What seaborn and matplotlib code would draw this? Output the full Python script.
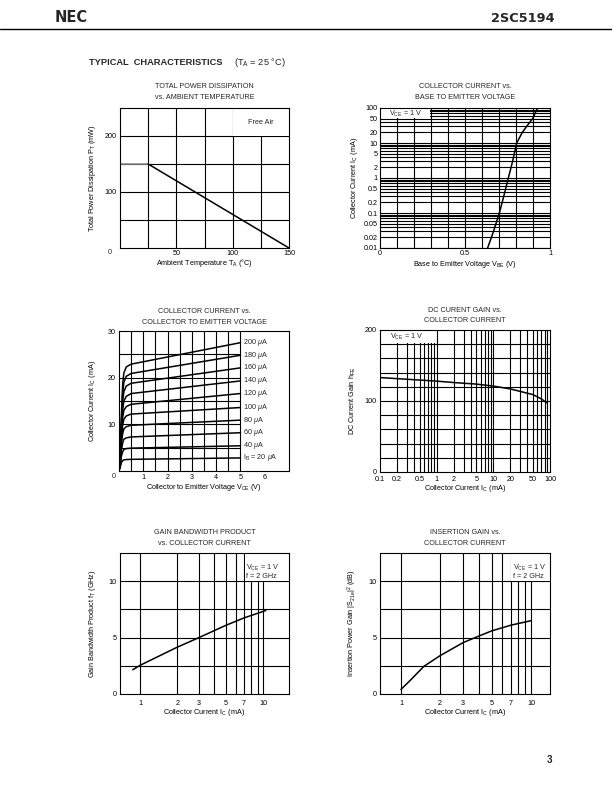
import numpy as np
import pandas as pd
import matplotlib
matplotlib.use("Agg")
import matplotlib.pyplot as plt
import seaborn as sns
from matplotlib.patches import Rectangle
from matplotlib.lines import Line2D
from matplotlib.ticker import NullLocator

sns.set_theme(style="white")
plt.rcParams['font.family'] = ['Liberation Sans', 'DejaVu Sans']
plt.rcParams['mathtext.fontset'] = 'custom'
plt.rcParams['mathtext.rm'] = 'Liberation Sans'
plt.rcParams['mathtext.it'] = 'Liberation Sans:italic'
plt.rcParams['mathtext.bf'] = 'Liberation Sans:bold'

# ---------------- data ----------------
# 1) Total power dissipation vs ambient temperature
ta_flat = [0, 25]
pt_flat = [150, 150]
ta_derate = [25, 150]
pt_derate = [150, 0]

# 2) Collector current vs base-emitter voltage (VCE = 1 V)
vbe_v = [0.633, 0.668, 0.702, 0.728, 0.755, 0.780, 0.804, 0.837, 0.863, 0.898, 0.927]
ic_vbe = [0.01, 0.03, 0.1, 0.3, 1, 3, 10, 20, 30, 50, 100]

# 3) Collector current vs collector-emitter voltage
vce_v = [0.0, 0.05, 0.1, 0.15, 0.2, 0.3, 0.5, 5.0]
ib_ua = [200, 180, 160, 140, 120, 100, 80, 60, 40, 20]
ic_ib200 = [0, 3.0, 12.0, 18.5, 21.0, 22.3, 22.9, 27.5]
ic_ib180 = [0, 3.0, 11.0, 16.5, 19.0, 20.3, 20.9, 24.8]
ic_ib160 = [0, 3.0, 10.0, 15.0, 17.0, 18.2, 18.8, 22.1]
ic_ib140 = [0, 2.5, 9.0, 13.0, 15.0, 16.0, 16.6, 19.3]
ic_ib120 = [0, 2.5, 8.0, 11.5, 13.0, 13.8, 14.3, 16.6]
ic_ib100 = [0, 2.0, 7.0, 9.8, 11.1, 11.8, 12.2, 13.6]
ic_ib80 = [0, 2.0, 6.0, 8.0, 9.0, 9.5, 9.8, 10.9]
ic_ib60 = [0, 1.5, 4.5, 6.0, 6.8, 7.1, 7.3, 8.2]
ic_ib40 = [0, 1.2, 3.2, 4.1, 4.6, 4.8, 4.9, 5.4]
ic_ib20 = [0, 0.8, 1.8, 2.2, 2.4, 2.45, 2.5, 2.8]

# 4) DC current gain vs collector current
ic_hfe = [0.1, 0.2, 0.5, 1, 2, 5, 10, 20, 50, 70, 90]
hfe = [133, 131.5, 129.5, 128, 126, 123.8, 121, 117, 109, 103, 97]

# 5) Gain bandwidth product vs collector current
ic_ft = [0.87, 1, 2, 3, 5, 7, 10.5]
ft_ghz = [2.15, 2.55, 4.15, 5.0, 6.1, 6.75, 7.4]

# 6) Insertion gain vs collector current
ic_gain = [1, 1.2, 1.5, 2, 3, 4, 5, 7, 10]
gain_db = [0.4, 1.3, 2.45, 3.4, 4.55, 5.15, 5.6, 6.1, 6.5]

# ---------------- helpers ----------------
W, H = 612, 792
fig = plt.figure(figsize=(W / 100, H / 100), dpi=100)
FS = 5.2
LWG = 0.8


def add_ax(x0, y0, x1, y1):
    ax = fig.add_axes([x0 / W, 1 - y1 / H, (x1 - x0) / W, (y1 - y0) / H])
    ax.set_facecolor('white')
    for s in ax.spines.values():
        s.set_color('black')
        s.set_linewidth(LWG)
        s.set_visible(True)
        s.set_zorder(5)
    ax.tick_params(length=0, labelsize=FS, colors='black', pad=2)
    ax.grid(False)
    ax._px = (x1 - x0, y1 - y0)
    return ax


def vgrid(ax, xs):
    for x in xs:
        ax.axvline(x, color='black', lw=LWG, zorder=1)


def hgrid(ax, ys):
    for y in ys:
        ax.axhline(y, color='black', lw=LWG, zorder=1)


def mask(ax, x0, x1, y0, y1):
    ax.add_patch(Rectangle((x0, y0), x1 - x0, y1 - y0, facecolor='white',
                           edgecolor='none', zorder=1.5))


def titles(ax, l1, l2, off1=21, off2=10.5):
    ax.annotate(l1, xy=(0.5, 1), xycoords='axes fraction', xytext=(0, off1 * 0.72),
                textcoords='offset points', ha='center', va='center', fontsize=FS)
    ax.annotate(l2, xy=(0.5, 1), xycoords='axes fraction', xytext=(0, off2 * 0.72),
                textcoords='offset points', ha='center', va='center', fontsize=FS)


def labels(ax, xl, yl, xoff, yoff):
    w, h = ax._px
    ax.set_xlabel(xl, fontsize=FS, color='black')
    ax.set_ylabel(yl, fontsize=FS, color='black')
    ax.xaxis.set_label_coords(0.5, -xoff / h)
    ax.yaxis.set_label_coords(-yoff / w, 0.5)
    ax.xaxis.label.set_va('center')
    ax.yaxis.label.set_va('center')


def curve(ax, x, y, color='black', lw=1.1):
    sns.lineplot(x=x, y=y, ax=ax, color=color, lw=lw, estimator=None, sort=False,
                 zorder=3)


# ---------------- header ----------------
fig.text(55 / W, 1 - 18 / H, "NEC", fontsize=10.5, fontweight='bold',
         family='DejaVu Sans', ha='left', va='center')
fig.text(555 / W, 1 - 18 / H, "2SC5194", fontsize=9.3, fontweight='bold',
         family='DejaVu Sans', ha='right', va='center')
fig.add_artist(Line2D([0, 1], [1 - 29 / H, 1 - 29 / H], color='black', lw=1.0))
fig.text(89 / W, 1 - 62.5 / H, "TYPICAL  CHARACTERISTICS", fontsize=6.7,
         fontweight='bold', ha='left', va='center')
fig.text(234 / W, 1 - 62.5 / H, r"(T$_\mathregular{A}$ = 25 °C)", fontsize=6.7,
         ha='left', va='center')
fig.text(549 / W, 1 - 760 / H, "3", fontsize=7, fontweight='bold', ha='center',
         va='center')

# ---------------- plot 1 ----------------
ax1 = add_ax(120, 108, 289, 248)
ax1.set_xlim(0, 150)
ax1.set_ylim(0, 250)
vgrid(ax1, [25, 50, 75, 100, 125])
hgrid(ax1, [50, 100, 150, 200])
mask(ax1, 100.6, 150, 200.8, 250)
curve(ax1, ta_flat, pt_flat, color='#8a8a8a')
curve(ax1, ta_derate, pt_derate)
ax1.set_xticks([50, 100, 150], ['50', '100', '150'])
ax1.set_yticks([100, 200], ['100', '200'])
ax1.tick_params(axis='x', pad=1.5)
ax1.tick_params(axis='y', pad=2.5)
ax1.text(0.834, 0.895, "Free Air", transform=ax1.transAxes, ha='center',
         va='center', fontsize=FS, zorder=4)
fig.text(110 / W, 1 - 253 / H, "0", fontsize=FS, ha='center', va='center')
titles(ax1, "TOTAL POWER DISSIPATION", "vs. AMBIENT TEMPERATURE")
labels(ax1, r"Ambient Temperature T$_\mathregular{A}$ (°C)",
       r"Total Power Dissipation P$_\mathregular{T}$ (mW)", 14.7, 28)

# ---------------- plot 2 ----------------
ax2 = add_ax(380, 108, 550, 248)
ax2.set_yscale('log')
ax2.set_xlim(0, 1)
ax2.set_ylim(0.01, 100)
vgrid(ax2, [0.1, 0.2, 0.3, 0.4, 0.5, 0.6, 0.7, 0.8, 0.9])
hgrid(ax2, [d * m for d in [0.01, 0.1, 1, 10] for m in range(1, 10)])
mask(ax2, 0, 0.297, 51, 100)
curve(ax2, vbe_v, ic_vbe)
ax2.yaxis.set_minor_locator(NullLocator())
yt2 = [100, 50, 20, 10, 5, 2, 1, 0.5, 0.2, 0.1, 0.05, 0.02, 0.01]
ax2.set_yticks(yt2, ['100', '50', '20', '10', '5', '2', '1', '0.5', '0.2', '0.1',
                     '0.05', '0.02', '0.01'])
ax2.set_xticks([0, 0.5, 1], ['0', '0.5', '1'])
ax2.tick_params(axis='x', pad=1.5)
ax2.tick_params(axis='y', pad=1.5)
ax2.text(0.15, 70, r"V$_\mathregular{CE}$ = 1 V", ha='center', va='center',
         fontsize=FS, zorder=4)
titles(ax2, "COLLECTOR CURRENT vs.", "BASE TO EMITTER VOLTAGE")
labels(ax2, r"Base to Emitter Voltage V$_\mathregular{BE}$ (V)",
       r"Collector Current I$_\mathregular{C}$ (mA)", 17, 26)

# ---------------- plot 3 ----------------
ax3 = add_ax(119, 331, 289, 471)
ax3.set_xlim(0, 7)
ax3.set_ylim(0, 30)
for x in [0.5, 1, 1.5, 2, 2.5, 3, 3.5, 4, 4.5, 5]:
    ax3.axvline(x, color='black', lw=LWG, zorder=1)
for y in [5, 10, 15, 20, 25]:
    ax3.plot([0, 5], [y, y], color='black', lw=LWG, zorder=1)
ic_family = [ic_ib200, ic_ib180, ic_ib160, ic_ib140, ic_ib120, ic_ib100,
             ic_ib80, ic_ib60, ic_ib40, ic_ib20]
df3 = pd.DataFrame({
    'vce': np.tile(vce_v, len(ib_ua)),
    'ic': np.concatenate(ic_family),
    'ib': np.repeat(ib_ua, len(vce_v)),
})
sns.lineplot(data=df3, x='vce', y='ic', hue='ib', units='ib', estimator=None,
             palette=['black'] * len(ib_ua), legend=False, ax=ax3, lw=1.1,
             sort=False, zorder=3)
for ib, ics in zip(ib_ua, ic_family):
    lab = rf"{ib} $\mu$A" if ib != 20 else r"I$_\mathregular{B}$ = 20 $\mu$A"
    ax3.text(5.12, ics[-1], lab, ha='left', va='center', fontsize=FS, zorder=4)
ax3.set_xticks([1, 2, 3, 4, 5, 6], ['1', '2', '3', '4', '5', '6'])
ax3.set_yticks([10, 20, 30], ['10', '20', '30'])
ax3.tick_params(axis='x', pad=2)
ax3.tick_params(axis='y', pad=2.5)
fig.text(114 / W, 1 - 477 / H, "0", fontsize=FS, ha='center', va='center')
titles(ax3, "COLLECTOR CURRENT vs.", "COLLECTOR TO EMITTER VOLTAGE", 19.5, 9)
labels(ax3, r"Collector to Emitter Voltage V$_\mathregular{CE}$ (V)",
       r"Collector Current I$_\mathregular{C}$ (mA)", 16.7, 27)

# ---------------- plot 4 ----------------
ax4 = add_ax(380, 330, 550, 472)
ax4.set_xscale('log')
ax4.set_xlim(0.1, 100)
ax4.set_ylim(0, 200)
vgrid(ax4, [d * m for d in [0.1, 1, 10] for m in range(1, 10) if d * m > 0.1])
hgrid(ax4, [20, 40, 60, 80, 100, 120, 140, 160, 180])
mask(ax4, 0.1, 0.985, 181, 200)
curve(ax4, ic_hfe, hfe)
ax4.xaxis.set_minor_locator(NullLocator())
ax4.set_xticks([0.1, 0.2, 0.5, 1, 2, 5, 10, 20, 50, 100],
               ['0.1', '0.2', '0.5', '1', '2', '5', '10', '20', '50', '100'])
ax4.set_yticks([0, 100, 200], ['0', '100', '200'])
ax4.tick_params(axis='x', pad=3)
ax4.tick_params(axis='y', pad=2.5)
ax4.text(0.3, 190, r"V$_\mathregular{CE}$ = 1 V", ha='center', va='center',
         fontsize=FS, zorder=4)
titles(ax4, "DC CURENT GAIN vs.", "COLLECTOR CURRENT", 19, 9)
labels(ax4, r"Collector Current I$_\mathregular{C}$ (mA)",
       r"DC Current Gain h$_\mathregular{FE}$", 16.3, 27)

# ---------------- plot 5 ----------------
ax5 = add_ax(120, 553, 289, 694)
ax5.set_xscale('log')
ax5.set_xlim(0.685, 16.2)
ax5.set_ylim(0, 12.5)
vgrid(ax5, [1, 2, 3, 4, 5, 6, 7, 8, 9, 10])
hgrid(ax5, [2.5, 5, 7.5, 10])
mask(ax5, 7.08, 16.2, 10.06, 12.5)
curve(ax5, ic_ft, ft_ghz)
ax5.xaxis.set_minor_locator(NullLocator())
ax5.set_xticks([1, 2, 3, 5, 7, 10], ['1', '2', '3', '5', '7', '10'])
ax5.set_yticks([0, 5, 10], ['0', '5', '10'])
ax5.tick_params(axis='x', pad=4)
ax5.tick_params(axis='y', pad=2.5)
ax5.text(0.746, 0.896, r"V$_\mathregular{CE}$ = 1 V", transform=ax5.transAxes,
         ha='left', va='center', fontsize=FS, zorder=4)
ax5.text(0.746, 0.832, "f = 2 GHz", transform=ax5.transAxes,
         ha='left', va='center', fontsize=FS, zorder=4)
titles(ax5, "GAIN BANDWIDTH PRODUCT", "vs. COLLECTOR CURRENT", 20.7, 9.7)
labels(ax5, r"Collector Current I$_\mathregular{C}$ (mA)",
       r"Gain Bandwidth Product f$_\mathregular{T}$ (GHz)", 19, 28)

# ---------------- plot 6 ----------------
ax6 = add_ax(380, 553, 550, 694)
ax6.set_xscale('log')
ax6.set_xlim(0.69, 14)
ax6.set_ylim(0, 12.5)
vgrid(ax6, [1, 2, 3, 4, 5, 6, 7, 8, 9, 10])
hgrid(ax6, [2.5, 5, 7.5, 10])
mask(ax6, 7.08, 14, 10.06, 12.5)
curve(ax6, ic_gain, gain_db)
ax6.xaxis.set_minor_locator(NullLocator())
ax6.set_xticks([1, 2, 3, 5, 7, 10], ['1', '2', '3', '5', '7', '10'])
ax6.set_yticks([0, 5, 10], ['0', '5', '10'])
ax6.tick_params(axis='x', pad=4)
ax6.tick_params(axis='y', pad=2.5)
ax6.text(0.78, 0.896, r"V$_\mathregular{CE}$ = 1 V", transform=ax6.transAxes,
         ha='left', va='center', fontsize=FS, zorder=4)
ax6.text(0.78, 0.832, "f = 2 GHz", transform=ax6.transAxes,
         ha='left', va='center', fontsize=FS, zorder=4)
titles(ax6, "INSERTION GAIN vs.", "COLLECTOR CURRENT", 20.7, 9.7)
labels(ax6, r"Collector Current I$_\mathregular{C}$ (mA)",
       r"Insertion Power Gain |S$_\mathregular{21e}$|$^\mathregular{2}$ (dB)", 19, 28)

fig.savefig("out.png", dpi=100, facecolor='white')
